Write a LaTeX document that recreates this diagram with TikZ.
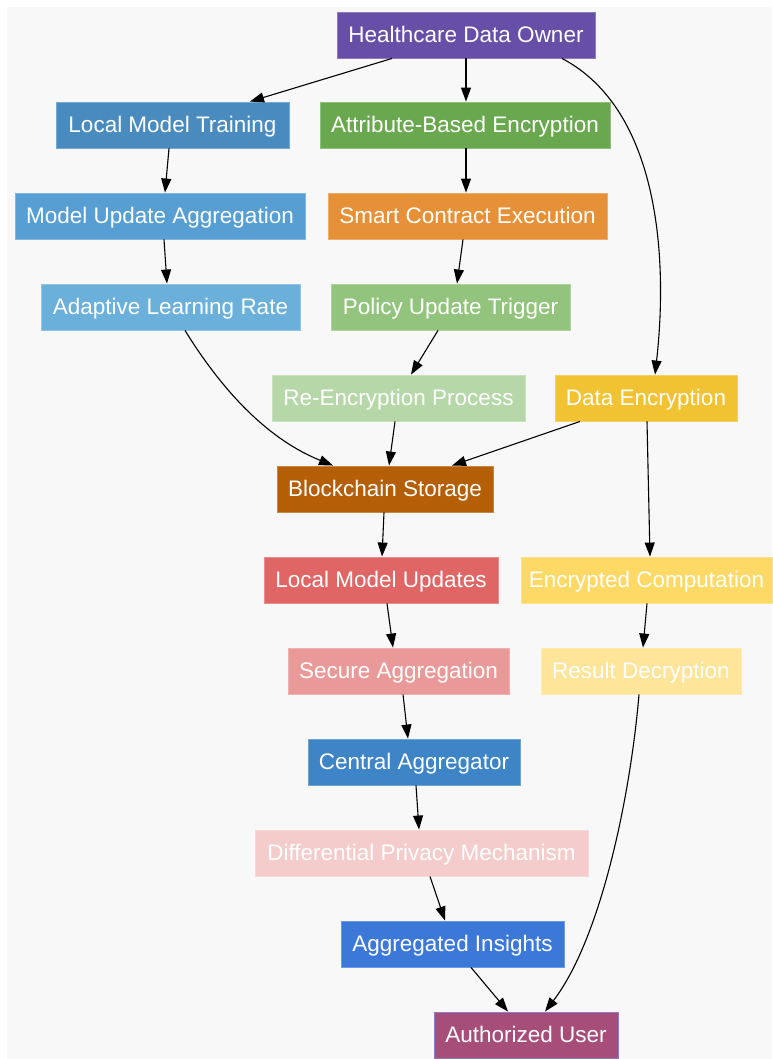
\documentclass[tikz,border=0pt]{standalone}
\usepackage{fontspec}
\setmainfont{Liberation Sans}
\usetikzlibrary{arrows.meta}
\definecolor{bg}{HTML}{F8F8F8}
\definecolor{cHDO}{HTML}{674EA7}
\definecolor{cLMT}{HTML}{4A8BBF}
\definecolor{cABE}{HTML}{6AA84F}
\definecolor{cMUA}{HTML}{579FD3}
\definecolor{cSCE}{HTML}{E69138}
\definecolor{cALR}{HTML}{6BB0DB}
\definecolor{cPUT}{HTML}{93C47D}
\definecolor{cREP}{HTML}{B6D7A8}
\definecolor{cDE}{HTML}{F1C232}
\definecolor{cBS}{HTML}{B45F06}
\definecolor{cLMU}{HTML}{E06666}
\definecolor{cEC}{HTML}{FFD966}
\definecolor{cSA}{HTML}{EA9999}
\definecolor{cRD}{HTML}{FFE599}
\definecolor{cCA}{HTML}{3D85C6}
\definecolor{cDPM}{HTML}{F4CCCC}
\definecolor{cAI}{HTML}{3C78D8}
\definecolor{cAU}{HTML}{A64D79}
\definecolor{cAUb}{HTML}{8E7CC3}
\tikzset{
  box/.style={rectangle, fill=#1, draw=#1!75!white, line width=0.9pt,
    minimum height=46pt, inner sep=0pt, text=white,
    text height=15.4pt, text depth=0pt,
    font=\fontsize{22.5}{27}\selectfont},
  conn/.style={line width=1.1pt, -{Triangle[length=14pt,width=10pt]}},
}
\begin{document}
\begin{tikzpicture}[x=1pt,y=-1pt]
\useasboundingbox (0,0) rectangle (772,1059);
\fill[bg] (7,7) rectangle (772,1059);
\node[box=cHDO, minimum width=258pt] (hdo) at (466,35) {Healthcare Data Owner};
\node[box=cLMT, minimum width=233pt] (lmt) at (172.5,125) {Local Model Training};
\node[box=cABE, minimum width=290pt] (abe) at (465,125) {Attribute-Based Encryption};
\node[box=cMUA, minimum width=290pt] (mua) at (160,216) {Model Update Aggregation};
\node[box=cSCE, minimum width=279pt] (sce) at (467.5,216) {Smart Contract Execution};
\node[box=cALR, minimum width=259pt] (alr) at (170.5,307) {Adaptive Learning Rate};
\node[box=cPUT, minimum width=239pt] (put) at (450.5,307) {Policy Update Trigger};
\node[box=cREP, minimum width=253pt] (rep) at (398.5,398) {Re-Encryption Process};
\node[box=cDE, minimum width=182pt] (de) at (646,398) {Data Encryption};
\node[box=cBS, minimum width=216pt] (bs) at (385,489) {Blockchain Storage};
\node[box=cLMU, minimum width=234pt] (lmu) at (381,580) {Local Model Updates};
\node[box=cEC, minimum width=251pt] (ec) at (646.5,580) {Encrypted Computation};
\node[box=cSA, minimum width=221pt] (sa) at (398.5,671) {Secure Aggregation};
\node[box=cRD, minimum width=200pt] (rd) at (641,671) {Result Decryption};
\node[box=cCA, minimum width=212pt] (ca) at (414,762) {Central Aggregator};
\node[box=cDPM, minimum width=333pt] (dpm) at (421.5,853) {Differential Privacy Mechanism};
\node[box=cAI, minimum width=223pt] (ai) at (452.5,944) {Aggregated Insights};
\node[box=cAU, draw=cAUb, minimum width=184pt] (au) at (526,1035) {Authorized User};

\draw[conn] ([xshift=-74pt]hdo.south) -- ([xshift=77.5pt]lmt.north);
\draw[conn] (hdo.south) -- ([xshift=1pt]abe.north);
\draw[conn] ([xshift=96pt]hdo.south) .. controls (660,110) and (668,260) .. ([xshift=9pt]de.north);
\draw[conn] ([xshift=-3.5pt]lmt.south) -- ([xshift=5pt]mua.north);
\draw[conn] ([xshift=1pt]abe.south) -- ([xshift=-1.5pt]sce.north);
\draw[conn] ([xshift=4pt]mua.south) -- ([xshift=-3.5pt]alr.north);
\draw[conn] ([xshift=-4.5pt]sce.south) -- ([xshift=6.5pt]put.north);
\draw[conn] ([xshift=14.5pt]alr.south) .. controls (225,395) and (270,440) .. ([xshift=-52pt]bs.north);
\draw[conn] ([xshift=-12.5pt]put.south) -- ([xshift=12.5pt]rep.north);
\draw[conn] ([xshift=-3.5pt]rep.south) -- ([xshift=4pt]bs.north);
\draw[conn] ([xshift=-66pt]de.south) -- ([xshift=67pt]bs.north);
\draw[conn] ([xshift=1pt]de.south) -- ([xshift=3.5pt]ec.north);
\draw[conn] ([xshift=-1pt]bs.south) -- ([xshift=1pt]lmu.north);
\draw[conn] ([xshift=0.5pt]ec.south) -- ([xshift=2pt]rd.north);
\draw[conn] ([xshift=6pt]lmu.south) -- ([xshift=-5.5pt]sa.north);
\draw[conn] ([xshift=4.5pt]sa.south) -- ([xshift=-6pt]ca.north);
\draw[conn] ([xshift=2pt]ca.south) -- ([xshift=-2.5pt]dpm.north);
\draw[conn] ([xshift=8.5pt]dpm.south) -- ([xshift=-7.5pt]ai.north);
\draw[conn] ([xshift=18.5pt]ai.south) -- ([xshift=-18pt]au.north);
\draw[conn] ([xshift=-2pt]rd.south) .. controls (630,800) and (600,940) .. ([xshift=19pt]au.north);
\end{tikzpicture}
\end{document}
